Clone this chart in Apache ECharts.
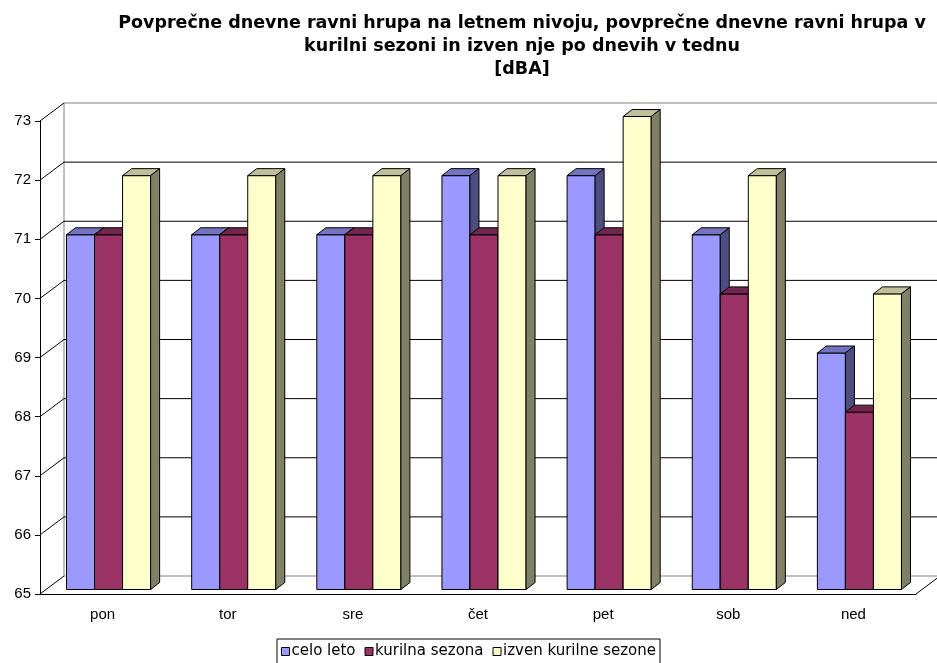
<!DOCTYPE html>
<html>
<head>
<meta charset="utf-8">
<script src="https://cdn.jsdelivr.net/npm/echarts@6/dist/echarts.min.js"></script>
<style>
html,body{margin:0;padding:0;background:#fff;}
#chart{width:937px;height:663px;}
</style>
</head>
<body>
<div id="chart"></div>
<script>
// dni v tednu
var days = ['pon', 'tor', 'sre', 'čet', 'pet', 'sob', 'ned'];
var seriesNames = ['celo leto', 'kurilna sezona', 'izven kurilne sezone'];
var celoLeto = [71, 71, 71, 72, 72, 71, 69];
var kurilna = [71, 71, 71, 71, 71, 70, 68];
var izven = [72, 72, 72, 72, 73, 72, 70];
var yTicks = [65, 66, 67, 68, 69, 70, 71, 72, 73];

// barve: spredaj, zgoraj, stranica
var faces = [
	['#9999FF', '#7373BF', '#4D4D80'],
	['#993366', '#73264D', '#4D1A33'],
	['#FFFFCC', '#BFBF99', '#808066']
];

var WALL_DX = 24, WALL_DY = -18;   // globina ozadja
var BAR_OX = 6, BAR_OY = -4.5;     // zamik sprednje ploskve stolpca
var BAR_DX = 9, BAR_DY = -7;       // globina stolpca

function renderWalls(params, api){
	var cs = params.coordSys;
	var v = api.value(0);
	var p = api.coord([0, v]);
	var y = p[1];
	var x0 = cs.x, x1 = cs.x + cs.width;
	var edge = (v === yTicks[0] || v === yTicks[yTicks.length - 1]);
	var children = [
		{type:'line', shape:{x1:x0, y1:y, x2:x0 + WALL_DX, y2:y + WALL_DY}, style:{stroke:'#000', lineWidth:1}},
		{type:'line', shape:{x1:x0 + WALL_DX, y1:y + WALL_DY, x2:x1 + WALL_DX, y2:y + WALL_DY}, style:{stroke:edge ? '#808080' : '#000', lineWidth:1}}
	];
	if(params.dataIndex === 0){
		var top = api.coord([0, yTicks[yTicks.length - 1]])[1];
		children.push({type:'line', shape:{x1:x0 + WALL_DX, y1:y + WALL_DY, x2:x0 + WALL_DX, y2:top + WALL_DY}, style:{stroke:'#808080', lineWidth:1}});
		children.push({type:'line', shape:{x1:x1, y1:y, x2:x1 + WALL_DX, y2:y + WALL_DY}, style:{stroke:'#000', lineWidth:1}});
	}
	return {type:'group', children:children};
}

function makeBarRenderer(k){
	return function(params, api){
		var idx = api.value(0);
		var top = api.coord([idx, api.value(1)]);
		var base = api.coord([idx, yTicks[0]]);
		var band = api.size([1, 0])[0];
		var w = band * 0.224;
		var left = top[0] - 1.5 * w + k * w + BAR_OX;
		var yt = top[1] + BAR_OY;
		var yb = base[1] + BAR_OY;
		var f = faces[k];
		var st = {stroke:'#000', lineWidth:1};
		return {type:'group', children:[
			{type:'rect', shape:{x:left, y:yt, width:w, height:yb - yt}, style:Object.assign({fill:f[0]}, st)},
			{type:'polygon', shape:{points:[[left, yt], [left + w, yt], [left + w + BAR_DX, yt + BAR_DY], [left + BAR_DX, yt + BAR_DY]]}, style:Object.assign({fill:f[1]}, st)},
			{type:'polygon', shape:{points:[[left + w, yt], [left + w + BAR_DX, yt + BAR_DY], [left + w + BAR_DX, yb + BAR_DY], [left + w, yb]]}, style:Object.assign({fill:f[2]}, st)}
		]};
	};
}

function toData(arr){
	return arr.map(function(v, i){ return [i, v]; });
}

var chart = echarts.init(document.getElementById('chart'));
var values = [celoLeto, kurilna, izven];
var series = [{
	name:'walls',
	type:'custom',
	renderItem:renderWalls,
	data:yTicks.map(function(v){ return [v]; }),
	encode:{y:0},
	silent:true,
	animation:false
}];
for(var k = 0; k < 3; k++){
	series.push({
		name:seriesNames[k],
		type:'custom',
		renderItem:makeBarRenderer(k),
		data:toData(values[k]),
		encode:{x:0, y:1},
		itemStyle:{color:faces[k][0]},
		animation:false
	});
}

var option = {
	animation:false,
	backgroundColor:'#fff',
	textStyle:{fontFamily:'Arial, "Liberation Sans", sans-serif'},
	title:{
		text:'Povprečne dnevne ravni hrupa na letnem nivoju, povprečne dnevne ravni hrupa v\nkurilni sezoni in izven nje po dnevih v tednu\n[dBA]',
		left:522,
		top:12,
		padding:0,
		textAlign:'center',
		textStyle:{fontSize:17.5, fontWeight:'bold', color:'#000', lineHeight:23, fontFamily:'"DejaVu Sans", sans-serif'}
	},
	legend:{
		data:seriesNames,
		top:639,
		left:'center',
		itemWidth:8,
		itemHeight:8,
		itemGap:9,
		icon:'rect',
		itemStyle:{borderColor:'#000', borderWidth:1},
		textStyle:{fontSize:15, color:'#000', padding:[0,0,0,-3], fontFamily:'"DejaVu Sans", sans-serif'},
		borderColor:'#000',
		borderWidth:1,
		padding:[5,4,12,4]
	},
	grid:{left:40, right:21, top:121, bottom:69},
	xAxis:{
		type:'category',
		data:days,
		axisLine:{lineStyle:{color:'#000'}},
		axisTick:{lineStyle:{color:'#000'}, length:5},
		axisLabel:{fontSize:15, color:'#000', margin:13}
	},
	yAxis:{
		type:'value',
		min:65,
		max:73,
		interval:1,
		axisLine:{show:true, lineStyle:{color:'#000'}},
		axisTick:{show:true, lineStyle:{color:'#000'}, length:5},
		axisLabel:{fontSize:15, color:'#000', margin:9},
		splitLine:{show:false}
	},
	series:series
};
chart.setOption(option);
</script>
</body>
</html>
